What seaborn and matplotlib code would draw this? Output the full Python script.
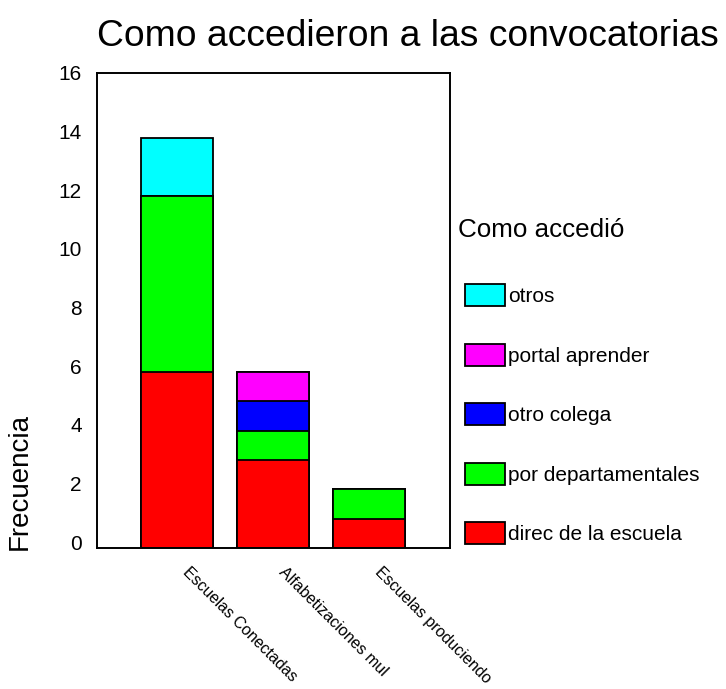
import numpy as np
import matplotlib
matplotlib.use("Agg")
import matplotlib.pyplot as plt
import matplotlib.patches as mpatches
import matplotlib.transforms as mtransforms
import seaborn as sns

# Data
categories = ['Escuelas Conectadas', 'Alfabetizaciones mul', 'Escuelas produciendo']
direc_escuela = [6, 3, 1]
por_departamentales = [6, 1, 1]
otro_colega = [0, 1, 0]
portal_aprender = [0, 1, 0]
otros = [2, 0, 0]

layer_labels = ['direc de la escuela', 'por departamentales', 'otro colega',
                'portal aprender', 'otros']
layer_colors = ['#ff0000', '#00ff00', '#0000ff', '#ff00ff', '#00ffff']
layers = [direc_escuela, por_departamentales, otro_colega, portal_aprender, otros]
y_ticks = [0, 2, 4, 6, 8, 10, 12, 14, 16]

sns.set_style("white")
plt.rcParams['font.family'] = ['Liberation Sans', 'DejaVu Sans']
for k in ['text.color', 'axes.labelcolor', 'xtick.color', 'ytick.color']:
    plt.rcParams[k] = 'black'

W, H = 726, 689
fig = plt.figure(figsize=(W / 100, H / 100), dpi=100)
ax = fig.add_axes([97 / W, 1 - 548 / H, (450 - 97) / W, (548 - 73) / H])

# stacked bars: draw cumulative totals from the top layer down
cum = np.cumsum(np.array(layers), axis=0)
for i in range(len(layers) - 1, -1, -1):
    sns.barplot(x=categories, y=cum[i], color=layer_colors[i], saturation=1,
                edgecolor='black', linewidth=1.3, width=0.75, ax=ax)

ax.set_xlim(-0.833, 2.844)
ax.set_ylim(0, 16.2)
ax.set_yticks(y_ticks)
ax.set_yticklabels([str(t) for t in y_ticks], fontsize=15)
ax.tick_params(axis='y', direction='in', length=3, width=1.5, pad=11)
ax.tick_params(axis='x', length=0, pad=12)
ax.set_xticklabels(categories, rotation=-45, ha='left', rotation_mode='anchor',
                   fontsize=11.5)
off_y = mtransforms.ScaledTranslation(0, 6 / 100, fig.dpi_scale_trans)
for lbl in ax.get_yticklabels():
    lbl.set_transform(lbl.get_transform() + off_y)
off_x = mtransforms.ScaledTranslation(14 / 100, 0, fig.dpi_scale_trans)
for lbl in ax.get_xticklabels():
    lbl.set_transform(lbl.get_transform() + off_x)

for s in ax.spines.values():
    s.set_color('black')
    s.set_linewidth(1.4)

ax.set_xlabel('')
ax.set_ylabel('Frecuencia', fontsize=20)
ax.yaxis.set_label_coords((33 - 97) / 353, (548 - 482) / 475)

fig.text(97 / W, 1 - 37 / H, 'Como accedieron a las convocatorias',
         fontsize=26.8, ha='left', va='center')

fig.text(458 / W, 1 - 230 / H, 'Como accedió', fontsize=18.7,
         ha='left', va='center')
handles = [mpatches.Patch(facecolor=layer_colors[i], edgecolor='black',
                          linewidth=1.3, label=layer_labels[i])
           for i in range(len(layers) - 1, -1, -1)]
fig.legend(handles=handles, loc='upper left',
           bbox_to_anchor=(465 / W, 1 - 284 / H), bbox_transform=fig.transFigure,
           frameon=False, fontsize=15, handlelength=1.9,
           handleheight=1.25, handletextpad=0.15, labelspacing=1.8,
           borderaxespad=0, borderpad=0)

fig.savefig('out.png', dpi=100)
